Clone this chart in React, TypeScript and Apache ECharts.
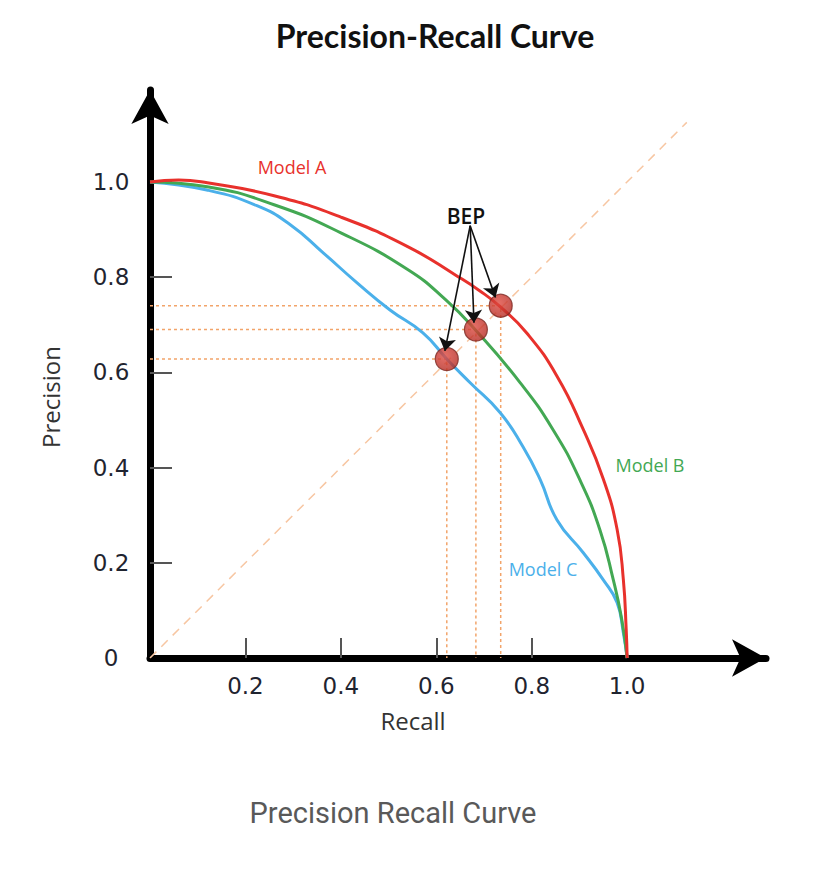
import React, { useEffect, useRef } from 'react';
import * as echarts from 'echarts';

// Model A (red)
const modelAX = [0, 0.06, 0.12, 0.26, 0.40, 0.54, 0.644, 0.69, 0.735, 0.79, 0.853, 0.908, 0.95, 0.979, 0.992, 0.998, 1.0];
const modelAY = [1.0, 1.004, 0.998, 0.971, 0.926, 0.864, 0.802, 0.772, 0.737, 0.682, 0.592, 0.48, 0.376, 0.27, 0.165, 0.06, 0];
// Model B (green)
const modelBX = [0, 0.12, 0.26, 0.40, 0.54, 0.62, 0.683, 0.776, 0.845, 0.901, 0.943, 0.971, 0.988, 1.0];
const modelBY = [1.0, 0.99, 0.952, 0.893, 0.816, 0.752, 0.688, 0.578, 0.479, 0.374, 0.269, 0.164, 0.085, 0];
// Model C (blue)
const modelCX = [0, 0.119, 0.224, 0.294, 0.363, 0.434, 0.503, 0.572, 0.622, 0.671, 0.734, 0.782, 0.818, 0.853, 0.908, 0.95, 0.979, 0.992, 1.0];
const modelCY = [1.0, 0.983, 0.95, 0.91, 0.851, 0.788, 0.731, 0.683, 0.628, 0.578, 0.515, 0.443, 0.374, 0.290, 0.221, 0.164, 0.116, 0.053, 0];

// Break-even points (precision = recall)
const bepNames = ['Model A', 'Model B', 'Model C'];
const bepX = [0.735, 0.683, 0.622];
const bepY = [0.74, 0.69, 0.628];
// Arrow tips pointing at each BEP, arrow origin below the "BEP" label
const arrowFrom = [0.671, 0.908];
const arrowTipX = [0.724, 0.679, 0.618];
const arrowTipY = [0.757, 0.704, 0.645];

// Diagonal (precision = recall) guide
const diagonal = [[0, 0], [1.125, 1.125]];

const xTicks = [0.2, 0.4, 0.6, 0.8, 1.0];
const yLabels = [0, 0.2, 0.4, 0.6, 0.8, 1.0];
const yTicks = [0.2, 0.4, 0.6, 0.8, 1.0];

const zip = (xs: number[], ys: number[]) => xs.map((x, i) => [x, ys[i]]);

const TICK_FONT = '"DejaVu Sans", sans-serif';
const LABEL_FONT = '"Open Sans", Lato, sans-serif';

export default function App() {
  const ref = useRef<HTMLDivElement>(null);
  useEffect(() => {
    if (!ref.current) return;
    const chart = echarts.init(ref.current, undefined, { renderer: 'svg' });

    const guideSeries = bepX.map((x, i) => ({
      type: 'line',
      name: 'guide-' + bepNames[i],
      data: [[0, bepY[i]], [x, bepY[i]], [x, 0]],
      symbol: 'none',
      silent: true,
      z: 1,
      lineStyle: { color: '#f2a46a', width: 1.5, type: [3, 3] },
    }));

    const curve = (name: string, xs: number[], ys: number[], color: string) => ({
      type: 'line',
      name,
      data: zip(xs, ys),
      smooth: 0.5,
      symbol: 'none',
      z: 3,
      lineStyle: { color, width: 3 },
    });

    const axisLineCommon = {
      show: true,
      onZero: false,
      symbol: ['none', 'arrow'],
      symbolSize: [28, 34],
      lineStyle: { color: '#000', width: 7 },
    };

    const option: any = {
      animation: false,
      backgroundColor: '#ffffff',
      grid: { left: 150, right: 58, top: 90, bottom: 212, containLabel: false },
      xAxis: {
        type: 'value',
        min: 0,
        max: 1.291,
        interval: 0.2,
        splitLine: { show: false },
        axisLine: axisLineCommon,
        axisTick: {
          show: true,
          inside: true,
          length: 20,
          customValues: xTicks,
          lineStyle: { color: '#555', width: 2 },
        },
        axisLabel: {
          customValues: xTicks,
          margin: 16,
          color: '#1f2430',
          fontSize: 23,
          fontFamily: TICK_FONT,
          formatter: (v: number) => v.toFixed(1),
        },
      },
      yAxis: {
        type: 'value',
        min: 0,
        max: 1.193,
        interval: 0.2,
        splitLine: { show: false },
        axisLine: axisLineCommon,
        axisTick: {
          show: true,
          inside: true,
          length: 22,
          customValues: yTicks,
          lineStyle: { color: '#555', width: 2 },
        },
        axisLabel: {
          customValues: yLabels,
          margin: 39,
          align: 'center',
          color: '#1f2430',
          fontSize: 23,
          fontFamily: TICK_FONT,
          formatter: (v: number) => (v === 0 ? '0' : v.toFixed(1)),
        },
      },
      graphic: [
        {
          type: 'text', x: 435, y: 35,
          style: { text: 'Precision-Recall Curve', font: `bold 32px Lato, sans-serif`, fill: '#111', align: 'center', verticalAlign: 'middle' },
        },
        {
          type: 'text', x: 292, y: 167,
          style: { text: 'Model A', font: `18px ${LABEL_FONT}`, fill: '#e8312c', align: 'center', verticalAlign: 'middle' },
        },
        {
          type: 'text', x: 650, y: 465,
          style: { text: 'Model B', font: `18px ${LABEL_FONT}`, fill: '#43a853', align: 'center', verticalAlign: 'middle' },
        },
        {
          type: 'text', x: 543, y: 569,
          style: { text: 'Model C', font: `18px ${LABEL_FONT}`, fill: '#4bb0ea', align: 'center', verticalAlign: 'middle' },
        },
        {
          type: 'text', x: 466, y: 216,
          style: { text: 'BEP', font: `600 21px ${LABEL_FONT}`, fill: '#111', align: 'center', verticalAlign: 'middle' },
        },
        {
          type: 'text', x: 413, y: 720,
          style: { text: 'Recall', font: `24px ${LABEL_FONT}`, fill: '#333', align: 'center', verticalAlign: 'middle' },
        },
        {
          type: 'text', x: 50, y: 397, rotation: Math.PI / 2,
          style: { text: 'Precision', font: `24px ${LABEL_FONT}`, fill: '#333', align: 'center', verticalAlign: 'middle' },
        },
        {
          type: 'text', x: 393, y: 813,
          style: { text: 'Precision Recall Curve', font: `29px Roboto, "Liberation Sans", sans-serif`, fill: '#595959', align: 'center', verticalAlign: 'middle' },
        },
      ],
      series: [
        {
          type: 'line',
          name: 'diagonal',
          data: diagonal,
          symbol: 'none',
          silent: true,
          z: 1,
          lineStyle: { color: '#f7c6a2', width: 1.5, type: [9, 7] },
        },
        ...guideSeries,
        curve('Model C', modelCX, modelCY, '#4bb0ea'),
        curve('Model B', modelBX, modelBY, '#43a853'),
        curve('Model A', modelAX, modelAY, '#e8312c'),
        {
          type: 'scatter',
          name: 'BEP',
          data: zip(bepX, bepY),
          symbolSize: 23,
          z: 5,
          itemStyle: {
            color: {
              type: 'radial', x: 0.42, y: 0.38, r: 0.65,
              colorStops: [
                { offset: 0, color: '#df4a40' },
                { offset: 1, color: '#b52a22' },
              ],
            },
            borderColor: '#7d2822',
            borderWidth: 1.2,
          },
        },
        {
          type: 'lines',
          name: 'arrows',
          coordinateSystem: 'cartesian2d',
          z: 6,
          symbol: ['none', 'arrow'],
          symbolSize: 13,
          silent: true,
          lineStyle: { color: '#111', width: 1.6, opacity: 1 },
          data: arrowTipX.map((x, i) => ({ coords: [arrowFrom, [x, arrowTipY[i]]] })),
        },
      ],
    };
    chart.setOption(option);
    return () => chart.dispose();
  }, []);

  return (
    <div
      ref={ref}
      style={{ position: 'absolute', left: 0, top: 0, width: 824, height: 870, background: '#fff' }}
    />
  );
}
